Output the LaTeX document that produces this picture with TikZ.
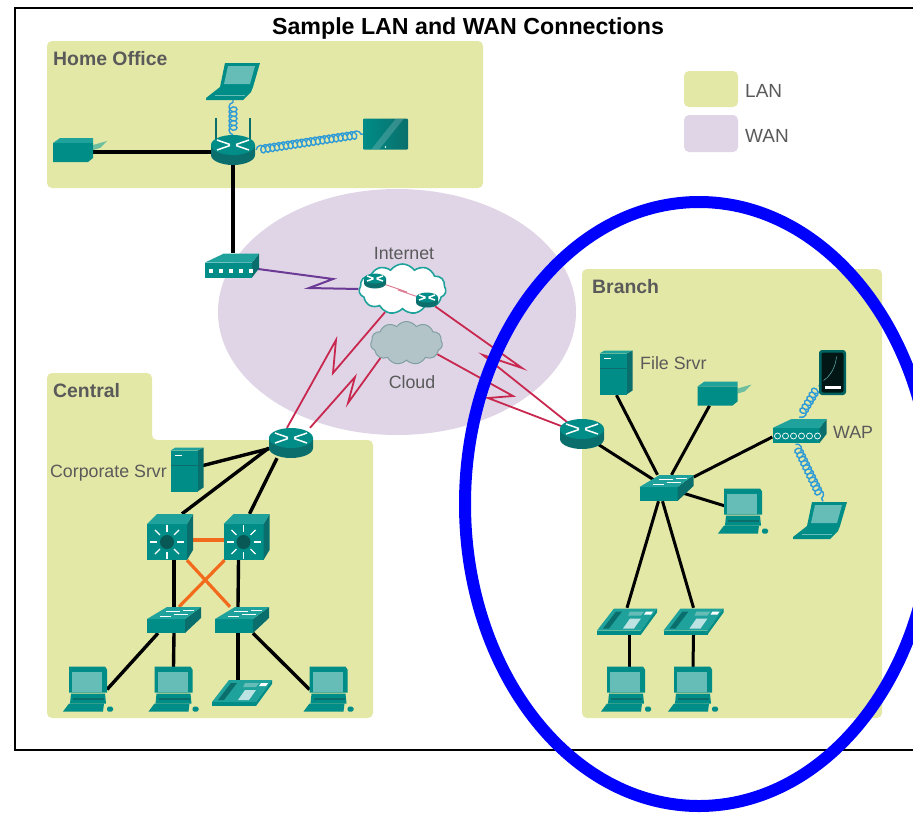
\documentclass[tikz,border=0pt]{standalone}
\usepackage{fontspec}
\setmainfont{Liberation Sans}
\usepackage{amsmath}
\usetikzlibrary{shapes.symbols,decorations.pathmorphing}

\definecolor{lanfill}{HTML}{E4E8A6}
\definecolor{wanfill}{HTML}{E0D5E6}
\definecolor{devmain}{HTML}{008C87}
\definecolor{devtop}{HTML}{1FA29C}
\definecolor{devdark}{HTML}{0A6F6C}
\definecolor{devscreen}{HTML}{66BDB8}
\definecolor{labelgray}{HTML}{5A5A5A}
\definecolor{serialred}{HTML}{C8284F}
\definecolor{linkorange}{HTML}{F26A1B}
\definecolor{dslpurple}{HTML}{6B3A96}
\definecolor{airblue}{HTML}{2E9BD6}
\definecolor{ringblue}{HTML}{0000FF}
\definecolor{cloudfill}{HTML}{B3C4C8}
\definecolor{cloudedge}{HTML}{7F9FA3}

\tikzset{
  lanzone/.style={fill=lanfill, rounded corners=5pt},
  wanzone/.style={fill=wanfill},
  devbox/.style 2 args={minimum width=#1, minimum height=#2},
  wire/.style={black, line width=3.4pt},
  branchwire/.style={black, line width=3pt},
  trunk/.style={linkorange, line width=3.2pt},
  serial/.style={serialred, line width=1.8pt, line join=miter},
  dsl/.style={dslpurple, line width=2pt},
  air/.style={airblue, line width=1.4pt, decorate,
    decoration={coil, aspect=0.9, segment length=4.6pt, amplitude=4pt}},
  zonetext/.style={labelgray, anchor=west, font=\bfseries\fontsize{19.4}{22}\selectfont},
  devtext/.style={labelgray, font=\fontsize{17.8}{20}\selectfont},
  legendtext/.style={labelgray, anchor=west, font=\fontsize{19}{22}\selectfont},
  pics/router/.style={code={
    \shade [left color=devdark, middle color=devscreen, right color=devdark]
      (-22,-5) -- (-22,5) arc (180:0:22 and 10) -- (22,-5) -- cycle;
    \fill [devmain] (0,-5) ellipse (22 and 10);
    \draw [white, line width=1.5pt] (-16,-10) -- (-3,-5.5) (-16,0) -- (-3,-4.5)
      (16,-10) -- (3,-5.5) (16,0) -- (3,-4.5);
  }},
  pics/antennas/.style={code={
    \draw [devdark, line width=1.2pt] (-17,-10) -- (-17,-32) (17,-10) -- (17,-32);
  }},
  pics/accessswitch/.style={code={
    \fill [devmain] (-27,-1) -- (11,-1) -- (11,13) -- (-27,13) -- cycle;
    \fill [devdark] (11,-1) -- (27,-13) -- (27,-2) -- (11,13) -- cycle;
    \fill [devtop] (-27,-1) -- (-7,-13) -- (27,-13) -- (11,-1) -- cycle;
    \draw [white, line width=0.8pt] (-8,-9) -- (6,-9) (0,-5.5) -- (14,-5.5) (-14,-4) -- (-3,-4) (9,-10) -- (20,-10);
  }},
  pics/coreswitch/.style={code={
    \fill [devmain] (-23,-13) -- (17,-13) -- (17,23) -- (-23,23) -- cycle;
    \fill [devdark] (17,-13) -- (23,-23) -- (23,13) -- (17,23) -- cycle;
    \fill [devtop] (-23,-13) -- (-13,-23) -- (23,-23) -- (17,-13) -- cycle;
    \fill [devdark!80!black] (-3,5) circle (7);
    \foreach \ang in {0,45,...,315}
      \draw [white, line width=1.3pt] (-3,5) ++(\ang:10) -- ++(\ang:7);
  }},
  pics/desktop/.style={code={
    \fill [devmain] (-17,4) -- (17,4) -- (18,14) -- (-18,14) -- cycle;
    \fill [devmain] (-19,-23) -- (17,-23) -- (19,-20) -- (19,3) -- (-19,3) -- cycle;
    \fill [devscreen] (-16,-18) rectangle (14,2);
    \fill [devdark] (-15,8) rectangle (16,10);
    \fill [devmain] (-25,22) -- (-19,14) -- (16,14) -- (15,22) -- cycle;
    \fill [devmain, rounded corners=1.5pt] (19,17) rectangle (25,22);
  }},
  pics/notebook/.style={code={
    \fill [devmain] (-8,-18) -- (27,-18) -- (20,6) -- (-13,6) -- cycle;
    \fill [devscreen] (-5,-15) -- (22,-15) -- (17,3) -- (-9,3) -- cycle;
    \fill [devmain] (-27,17) -- (-13,6) -- (20,6) -- (18,11) -- (10,19) -- (-27,19) -- cycle;
    \draw [devscreen, line width=0.6pt] (-18,14) -- (12,14);
  }},
  pics/tower/.style={code={
    \fill [devdark] (10,-19) -- (16,-22) -- (16,18) -- (10,22) -- cycle;
    \fill [devtop] (-17,-19) -- (-12,-22) -- (16,-22) -- (10,-19) -- cycle;
    \fill [devmain] (-17,-19) rectangle (10,22);
    \draw [white, line width=1.2pt] (-13,-14) -- (-6,-14);
    \draw [devdark, line width=0.5pt] (-17,-4) -- (10,-4);
  }},
  pics/printer/.style={code={
    \fill [devtop!60!lanfill] (13,-5) -- (27,-9) -- (20,-2) -- (13,0) -- cycle;
    \fill [devtop] (-27,-7) -- (-20,-12) -- (13,-12) -- (13,-7) -- cycle;
    \fill [devmain] (-27,-7) -- (13,-7) -- (13,8) -- (8,12) -- (-27,12) -- cycle;
  }},
  pics/tablet/.style={code={
    \shade [left color=devmain, right color=devdark, rounded corners=1pt] (-22.5,-15.5) rectangle (22.5,15.5);
    \fill [white, opacity=0.18] (-14,15) -- (10,-15) -- (18,-15) -- (-6,15) -- cycle;
    \fill [white] (0,13) circle (0.9);
  }},
  pics/handheld/.style={code={
    \fill [devmain!70!black, rounded corners=3pt] (-13.5,-22.5) rectangle (13.5,22.5);
    \fill [black!80!devdark, rounded corners=2pt] (-11,-20) rectangle (11,20);
    \draw [devscreen, line width=0.5pt] (4,-16) .. controls (3,-4) and (-3,4) .. (-9,8);
    \fill [white] (-8,13) rectangle (8,16);
  }},
  pics/modem/.style={code={
    \fill [devmain] (-27,-3) -- (20,-3) -- (20,12) -- (-27,12) -- cycle;
    \fill [devdark] (20,-3) -- (27,-12) -- (27,3) -- (20,12) -- cycle;
    \fill [devtop] (-27,-3) -- (-8,-12) -- (27,-12) -- (20,-3) -- cycle;
  }},
  pics/phone/.style={code={
    \fill [devtop] (-30,9) -- (-13,-13) -- (30,-13) -- (14,9) -- cycle;
    \fill [devmain] (-30,9) -- (14,9) -- (14,13) -- (-30,13) -- cycle;
    \fill [devmain] (14,9) -- (30,-13) -- (30,-9) -- (14,13) -- cycle;
    \fill [devdark] (-24,7) -- (-11,-10) -- (-5,-10) -- (-18,7) -- cycle;
    \fill [white!70!devtop] (-4,7) -- (3,-3) -- (14,-3) -- (7,7) -- cycle;
    \fill [devscreen] (3,-10) -- (17,-10) -- (14,-6) -- (1,-6) -- cycle;
    \fill [white] (19,-10) -- (26,-10) -- (24,-7) -- (17,-7) -- cycle;
  }}
}

\begin{document}
\begin{tikzpicture}[x=1pt, y=-1pt]
\tikzstyle{every node}+=[inner sep=0pt]
\useasboundingbox (0,0) rectangle (913,812);
\fill [white] (0,0) rectangle (913,812);
\draw [black, line width=1.4pt] (914,8) -- (15,8) -- (15,750) -- (914,750);
\node (title) at (468,28) {\bfseries\fontsize{23.2}{26}\selectfont Sample LAN and WAN Connections};

\fill [wanzone] (397,312) ellipse (179 and 123);
\fill [lanzone] (47,41) rectangle (483,188);
\fill [lanzone] (47,373) -- (152,373) -- (152,440) -- (373,440) -- (373,718) -- (47,718) -- cycle;
\fill [lanzone] (582,269) rectangle (882,718);
\fill [lanzone] (684,71) rectangle (738,107);
\fill [wanzone, rounded corners=5pt] (684,115) rectangle (738,152);

\node [zonetext] (homelabel) at (53,59) {Home Office};
\node [zonetext] (centrallabel) at (53,391) {Central};
\node [zonetext] (branchlabel) at (592,287) {Branch};
\node [legendtext] (lanlabel) at (745,91) {LAN};
\node [legendtext] (wanlabel) at (745,136) {WAN};
\node [devtext] (netlabel) at (404,253) {Internet};
\node [devtext] (cloudlabel) at (412,382) {Cloud};
\node [devtext, anchor=east] (corplabel) at (167,473) {Corporate Srvr};
\node [devtext, anchor=west] (filelabel) at (640,363) {File Srvr};
\node [devtext, anchor=west] (waplabel) at (833,432) {WAP};

\node [cloud, cloud puffs=11, cloud puff arc=110, aspect=1.7, draw=devtop, line width=1.6pt, fill=white,
  minimum width=87, minimum height=50] (inet) at (402.5,289) {};
\node [cloud, cloud puffs=11, cloud puff arc=110, aspect=1.7, draw=cloudedge, line width=1pt, fill=cloudfill,
  minimum width=72, minimum height=43] (wcloud) at (406.5,343) {};

\node [devbox={46}{30}] (hrt) at (233,150) {};
\node [devbox={54}{37}] (hlap) at (233,81) {};
\node [devbox={54}{24}] (hprn) at (80,150) {};
\node [devbox={45}{31}] (htab) at (385.5,134) {};
\node [devbox={54}{25}] (hmod) at (232,265.5) {};
\node [devbox={22}{22}] (ira) at (375,281) {};
\node [devbox={22}{22}] (irb) at (427,300) {};

\node [devbox={44}{30}] (crt) at (291,443) {};
\node [devbox={33}{45}] (csrv) at (187.5,469.5) {};
\node [devbox={46}{46}] (mlsa) at (170,537) {};
\node [devbox={46}{46}] (mlsb) at (246.5,537) {};
\node [devbox={54}{26}] (swa) at (174,620) {};
\node [devbox={54}{26}] (swb) at (242,620) {};
\node [devbox={50}{45}] (cpca) at (88,689.5) {};
\node [devbox={50}{45}] (cpcb) at (173.5,689.5) {};
\node [devbox={60}{26}] (cph) at (242,693) {};
\node [devbox={50}{45}] (cpcc) at (328.5,689.5) {};

\node [devbox={44}{30}] (brt) at (582,434) {};
\node [devbox={33}{45}] (bsrv) at (616.5,372.5) {};
\node [devbox={54}{24}] (bprn) at (724.5,393.5) {};
\node [devbox={27}{45}] (bpda) at (832.5,372.5) {};
\node [devbox={54}{26}] (bwap) at (799.5,431) {};
\node [devbox={54}{26}] (bsw) at (666.5,488) {};
\node [devbox={50}{45}] (bpc) at (743,511.5) {};
\node [devbox={54}{37}] (blap) at (820,520) {};
\node [devbox={60}{27}] (bpha) at (627,621.5) {};
\node [devbox={60}{27}] (bphb) at (693.5,621.5) {};
\node [devbox={50}{45}] (bpca) at (626,689.5) {};
\node [devbox={50}{45}] (bpcb) at (693,689.5) {};

\draw [wire] ([yshift=-2]hprn.center) -- ([yshift=-2]hrt.center);
\draw [wire] (hrt.center) -- (hmod.north -| hrt.center);
\draw [air] (hrt.north) -- (hlap.south);
\draw [air] (hrt.east) -- (htab.west);
\draw [dsl] (hmod.center) -- (333,279) -- (309,288) -- (inet.west);
\draw [serialred!60!white, line width=1pt] (ira.center) -- (407,292) -- (398,290) -- (irb.center);

\draw [serial] (inet.-127) -- (333,373) -- (336,340) -- ([xshift=-4]crt.north);
\draw [serial] (wcloud.-150) -- (348,403) -- (355,377) -- ([xshift=19]crt.north);
\draw [serial] (inet.-28) -- (522,368) -- (483,355) -- (brt.center);
\draw [serial] (wcloud.-20) -- (513,396) -- (488,398) -- (brt.center);

\draw [wire] (crt.center) -- (csrv.center);
\draw [wire] ([yshift=-5]crt.west) -- ([xshift=12]mlsa.north);
\draw [wire] ([xshift=-14]crt.south) -- ([xshift=3]mlsb.north);
\draw [trunk] ([yshift=-3]mlsa.center) -- ([yshift=-3]mlsb.center);
\draw [trunk] ([xshift=17]mlsa.south) -- ([xshift=-12]swb.north);
\draw [trunk] ([xshift=-22]mlsb.south) -- ([xshift=5]swa.north);
\draw [wire] ([xshift=4]mlsa.south) -- (swa.north);
\draw [wire] ([xshift=-8]mlsb.south) -- ([xshift=-4]swb.north);
\draw [wire] ([xshift=-16]swa.south) -- ([xshift=19]cpca.center);
\draw [wire] (swa.south) -- (cpcb.north);
\draw [wire] ([xshift=-4]swb.south) -- ([xshift=-4]cph.north);
\draw [wire] ([xshift=11]swb.south) -- ([xshift=-19]cpcc.center);

\draw [branchwire] (brt.center) -- (bsw.center);
\draw [branchwire] (bsrv.south) -- ([xshift=-9]bsw.north);
\draw [branchwire] ([xshift=-15]bprn.south) -- ([xshift=5]bsw.north);
\draw [branchwire] ([yshift=-6]bwap.west) -- ([yshift=11]bsw.east);
\draw [branchwire] (bsw.center) -- (bpc.center);
\draw [branchwire] ([xshift=-8]bsw.south) -- (bpha.north);
\draw [branchwire] ([xshift=-4]bsw.south) -- (bphb.north);
\draw [branchwire] ([xshift=2]bpha.south) -- ([xshift=3]bpca.north);
\draw [branchwire] (bphb.south) -- (bpcb.north);
\draw [air] ([yshift=10]bpda.south west) -- (bwap.north);
\draw [air] ([xshift=-4]bwap.south) -- ([xshift=3]blap.north);

\pic at (hrt) {antennas};
\pic at (hrt) {router};
\pic at (hlap) {notebook};
\pic at (hprn) {printer};
\pic at (htab) {tablet};
\pic at (hmod) {modem};
\foreach \dotx in {-21,-11,-1,9,19}
  \fill [white] ([shift={(\dotx,5)}]hmod.center) ++(-2,-2) rectangle ++(4,4);
\pic [scale=0.5] at (ira) {router};
\pic [scale=0.5] at (irb) {router};

\pic at (crt) {router};
\pic at (csrv) {tower};
\pic at (mlsa) {coreswitch};
\pic at (mlsb) {coreswitch};
\pic at (swa) {accessswitch};
\pic at (swb) {accessswitch};
\pic at (cpca) {desktop};
\pic at (cpcb) {desktop};
\pic at (cph) {phone};
\pic at (cpcc) {desktop};

\pic at (brt) {router};
\pic at (bsrv) {tower};
\pic at (bprn) {printer};
\pic at (bpda) {handheld};
\pic at (bwap) {modem};
\foreach \dotx in {-22,-14,-6,2,10,18}
  \draw [white, line width=0.7pt] ([shift={(\dotx,5)}]bwap.center) circle (3);
\pic at (bsw) {accessswitch};
\pic at (bpc) {desktop};
\pic at (blap) {notebook};
\pic at (bpha) {phone};
\pic at (bphb) {phone};
\pic at (bpca) {desktop};
\pic at (bpcb) {desktop};

\draw [ringblue, line width=12pt] (699,504) ellipse (234 and 302);
\end{tikzpicture}
\end{document}
